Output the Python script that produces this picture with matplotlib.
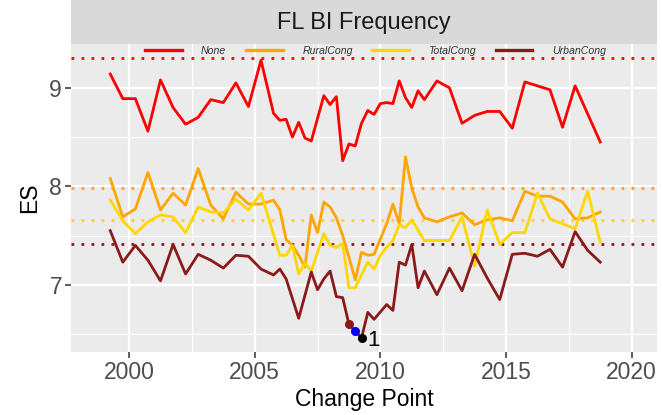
import matplotlib
matplotlib.use("Agg")
import matplotlib.pyplot as plt
from matplotlib.lines import Line2D

plt.rcParams['font.family'] = ['Liberation Sans', 'DejaVu Sans']

# -- Data ---------------------------------------------------------------
none_x = [1999.25, 1999.75, 2000.25, 2000.75, 2001.25, 2001.75, 2002.25, 2002.75,
          2003.25, 2003.75, 2004.25, 2004.75, 2005.25, 2005.75, 2006.0, 2006.25,
          2006.5, 2006.75, 2007.0, 2007.25, 2007.75, 2008.0, 2008.25, 2008.5,
          2008.75, 2009.0, 2009.25, 2009.5, 2009.75, 2010.0, 2010.25, 2010.5,
          2010.75, 2011.0, 2011.25, 2011.5, 2011.75, 2012.25, 2012.75, 2013.25,
          2013.75, 2014.25, 2014.75, 2015.25, 2015.75, 2016.75, 2017.25, 2017.75,
          2018.75]
none_y = [9.14, 8.89, 8.89, 8.56, 9.08, 8.80, 8.63, 8.70,
          8.88, 8.85, 9.05, 8.81, 9.28, 8.74, 8.67, 8.68,
          8.50, 8.65, 8.49, 8.46, 8.92, 8.83, 8.91, 8.26,
          8.43, 8.41, 8.64, 8.77, 8.73, 8.84, 8.85, 8.84,
          9.07, 8.90, 8.80, 8.97, 8.88, 9.07, 9.00, 8.64,
          8.72, 8.76, 8.76, 8.59, 9.06, 8.98, 8.60, 9.02,
          8.45]

rural_x = [1999.25, 1999.75, 2000.25, 2000.75, 2001.25, 2001.75, 2002.25, 2002.75,
           2003.25, 2003.75, 2004.25, 2004.75, 2005.25, 2005.75, 2006.0, 2006.25,
           2006.5, 2006.75, 2007.0, 2007.25, 2007.5, 2007.75, 2008.0, 2008.25,
           2008.5, 2008.75, 2009.0, 2009.25, 2009.5, 2009.75, 2010.25, 2010.5,
           2010.75, 2011.0, 2011.25, 2011.5, 2011.75, 2012.25, 2012.75, 2013.25,
           2013.75, 2014.25, 2014.75, 2015.25, 2015.75, 2016.25, 2016.75, 2017.25,
           2017.75, 2018.25, 2018.75]
rural_y = [8.08, 7.69, 7.77, 8.14, 7.76, 7.93, 7.81, 8.18,
           7.81, 7.67, 7.94, 7.82, 7.82, 7.86, 7.76, 7.46,
           7.40, 7.30, 7.18, 7.71, 7.53, 7.84, 7.79, 7.68,
           7.50, 7.28, 7.05, 7.33, 7.30, 7.31, 7.62, 7.82,
           7.62, 8.30, 7.98, 7.79, 7.68, 7.64, 7.69, 7.73,
           7.61, 7.66, 7.68, 7.65, 7.95, 7.90, 7.90, 7.84,
           7.67, 7.68, 7.74]

total_x = [1999.25, 1999.75, 2000.25, 2000.75, 2001.25, 2001.75, 2002.25, 2002.75,
           2003.25, 2003.75, 2004.25, 2004.75, 2005.25, 2006.0, 2006.25, 2006.5,
           2006.75, 2007.0, 2007.25, 2007.75, 2008.0, 2008.25, 2008.5, 2008.75,
           2009.0, 2009.5, 2009.75, 2010.0, 2010.25, 2010.5, 2010.75, 2011.0,
           2011.25, 2011.75, 2012.25, 2012.75, 2013.25, 2013.75, 2014.25, 2014.75,
           2015.25, 2015.75, 2016.25, 2016.75, 2017.75, 2018.25, 2018.75]
total_y = [7.86, 7.65, 7.52, 7.64, 7.71, 7.69, 7.53, 7.79,
           7.74, 7.73, 7.87, 7.76, 7.93, 7.30, 7.30, 7.40,
           7.11, 7.22, 7.14, 7.52, 7.40, 7.38, 7.42, 6.97,
           6.97, 7.23, 7.16, 7.30, 7.38, 7.45, 7.61, 7.58,
           7.66, 7.45, 7.45, 7.45, 7.69, 7.19, 7.76, 7.41,
           7.53, 7.53, 7.93, 7.67, 7.57, 7.95, 7.43]

urban_x = [1999.25, 1999.75, 2000.25, 2000.75, 2001.25, 2001.75, 2002.25, 2002.75,
           2003.25, 2003.75, 2004.25, 2004.75, 2005.25, 2005.75, 2006.0, 2006.25,
           2006.75, 2007.25, 2007.5, 2007.75, 2008.0, 2008.25, 2008.5, 2008.75,
           2009.0, 2009.25, 2009.5, 2009.75, 2010.25, 2010.5, 2010.75, 2011.0,
           2011.25, 2011.5, 2011.75, 2012.25, 2012.75, 2013.25, 2013.75, 2014.25,
           2014.75, 2015.25, 2015.75, 2016.25, 2016.75, 2017.25, 2017.75, 2018.25,
           2018.75]
urban_y = [7.55, 7.23, 7.40, 7.25, 7.04, 7.41, 7.11, 7.31,
           7.25, 7.17, 7.30, 7.29, 7.16, 7.10, 7.16, 7.06,
           6.66, 7.13, 6.95, 7.06, 7.14, 6.88, 6.87, 6.60,
           6.53, 6.46, 6.72, 6.65, 6.80, 6.74, 7.23, 7.20,
           7.41, 6.97, 7.14, 6.90, 7.17, 6.94, 7.31, 7.07,
           6.85, 7.31, 7.32, 7.29, 7.36, 7.18, 7.54, 7.35,
           7.23]

series_names = ["None", "RuralCong", "TotalCong", "UrbanCong"]
series_colors = ["#FF0000", "#FFA500", "#FFD700", "#8B1A1A"]
series_means = [9.30, 7.98, 7.66, 7.41]

# change points marked on the plot
cp_x = [2008.75, 2009.0, 2009.25]
cp_y = [6.60, 6.53, 6.46]
cp_colors = ["#8B1A1A", "#0000FF", "#000000"]
cp_label = "1"

# -- Figure -------------------------------------------------------------
fig = plt.figure(figsize=(6.62, 4.15), dpi=100)
ax = fig.add_axes([0.1073, 0.1518, 0.8852, 0.7415])
ax.set_facecolor("#EBEBEB")
for s in ax.spines.values():
    s.set_visible(False)

ax.set_xlim(1997.69, 2021.01)
ax.set_ylim(6.318, 9.442)
ax.set_xticks([2000, 2005, 2010, 2015, 2020])
ax.set_xticks([2002.5, 2007.5, 2012.5, 2017.5], minor=True)
ax.set_yticks([7, 8, 9])
ax.set_yticks([6.5, 7.5, 8.5], minor=True)
ax.grid(True, which="major", color="white", linewidth=1.6)
ax.grid(True, which="minor", color="white", linewidth=0.8)
ax.set_axisbelow(True)
ax.tick_params(which="major", length=4, width=1.1, color="#333333",
               labelsize=16.5, labelcolor="#4D4D4D", pad=2.5)
ax.tick_params(which="minor", length=0)

# dotted means
for m, c in zip(series_means, series_colors):
    ax.axhline(m, color=c, linewidth=2.0, linestyle=(0, (1, 2.6)), zorder=2)

xs = [none_x, rural_x, total_x, urban_x]
ys = [none_y, rural_y, total_y, urban_y]
for x, y, c in zip(xs, ys, series_colors):
    ax.plot(x, y, color=c, linewidth=2.0, zorder=3)

for x, y, c in zip(cp_x, cp_y, cp_colors):
    ax.plot(x, y, "o", color=c, markersize=5.5, zorder=4)
ax.annotate(cp_label, (cp_x[-1], cp_y[-1]), xytext=(4, -1.5),
            textcoords="offset points", ha="left", va="center",
            fontsize=16, color="black")

ax.set_xlabel("Change Point", fontsize=16.5, labelpad=3)
ax.set_ylabel("ES", fontsize=16.5, labelpad=6)

# facet strip
strip = fig.add_axes([0.1073, 0.8933, 0.8852, 0.1067])
strip.set_facecolor("#D9D9D9")
strip.set_xticks([])
strip.set_yticks([])
for s in strip.spines.values():
    s.set_visible(False)
strip.text(0.5, 0.49, "FL BI Frequency", ha="center", va="center",
           fontsize=17, color="#1A1A1A", transform=strip.transAxes)

# legend inside top of panel
handles = [Line2D([], [], color=c, linewidth=2.4) for c in series_colors]
fig.legend(handles, series_names, ncol=4, loc="center",
           bbox_to_anchor=(0.567, 0.878), frameon=False,
           prop={"size": 7.6, "style": "italic"}, labelcolor="#333333",
           handlelength=3.5, handletextpad=1.84, columnspacing=1.84)

fig.savefig("out.png", dpi=100)
